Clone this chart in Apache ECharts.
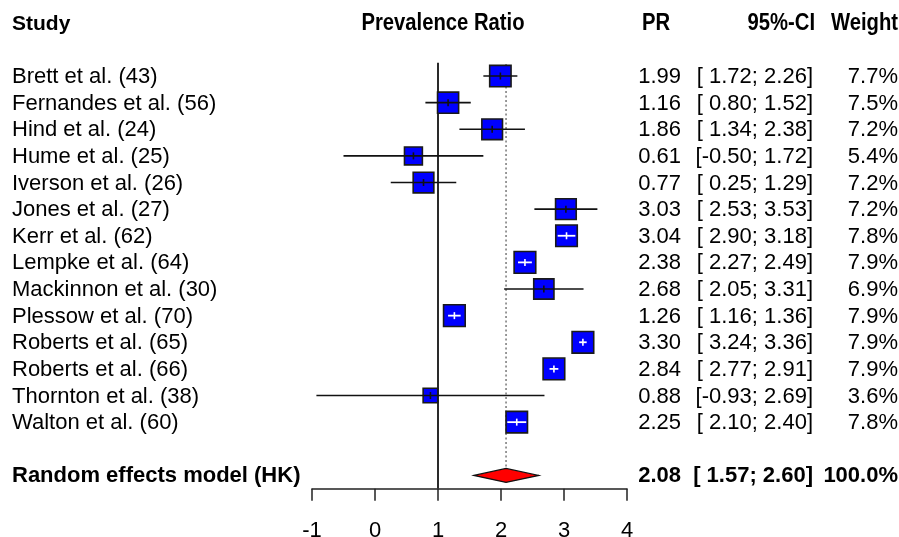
<!DOCTYPE html>
<html>
<head>
<meta charset="utf-8">
<script src="https://cdn.jsdelivr.net/npm/echarts@6/dist/echarts.min.js"></script>
<style>
  html, body { margin: 0; padding: 0; background: #fff; }
  #forest-chart { width: 899px; height: 537px; }
</style>
</head>
<body>
<div id="forest-chart"></div>
<script>
// 研究列表及其效应值
const studies = [
  "Brett et al. (43)", "Fernandes et al. (56)", "Hind et al. (24)", "Hume et al. (25)",
  "Iverson et al. (26)", "Jones et al. (27)", "Kerr et al. (62)", "Lempke et al. (64)",
  "Mackinnon et al. (30)", "Plessow et al. (70)", "Roberts et al. (65)", "Roberts et al. (66)",
  "Thornton et al. (38)", "Walton et al. (60)"
];
const pr = [1.99, 1.16, 1.86, 0.61, 0.77, 3.03, 3.04, 2.38, 2.68, 1.26, 3.30, 2.84, 0.88, 2.25];
const lower = [1.72, 0.80, 1.34, -0.50, 0.25, 2.53, 2.90, 2.27, 2.05, 1.16, 3.24, 2.77, -0.93, 2.10];
const upper = [2.26, 1.52, 2.38, 1.72, 1.29, 3.53, 3.18, 2.49, 3.31, 1.36, 3.36, 2.91, 2.69, 2.40];
const weight = [7.7, 7.5, 7.2, 5.4, 7.2, 7.2, 7.8, 7.9, 6.9, 7.9, 7.9, 7.9, 3.6, 7.8];

// 合并效应 (随机效应模型)
const summaryLabel = "Random effects model (HK)";
const summaryPR = 2.08;
const summaryLower = 1.57;
const summaryUpper = 2.60;
const summaryWeight = 100.0;
const summaryRow = 15;

const xTicks = [-1, 0, 1, 2, 3, 4];

const FONT = "'Liberation Sans', Arial, sans-serif";

const fmtCI = (lo, hi) => {
  const a = lo < 0 ? lo.toFixed(2) : " " + lo.toFixed(2);
  return "[" + a + "; " + hi.toFixed(2) + "]";
};

const studyData = studies.map((s, i) => [pr[i], i, lower[i], upper[i], weight[i]]);
const textData = studies.map((s, i) => [pr[i], i, s, pr[i].toFixed(2), fmtCI(lower[i], upper[i]), weight[i].toFixed(1) + "%"]);
textData.push([summaryPR, summaryRow, summaryLabel, summaryPR.toFixed(2), fmtCI(summaryLower, summaryUpper), summaryWeight.toFixed(1) + "%", 1]);

// 表头 (窄体粗字)
const header = (text, x, align) => ({
  type: "text",
  x: x,
  y: 24,
  scaleX: 0.88,
  style: { text: text, font: "bold 23px " + FONT, fill: "#000", align: align, verticalAlign: "middle" },
});

let chart = echarts.init(document.getElementById("forest-chart"));

let option = {
  animation: false,
  backgroundColor: "#fff",
  grid: {
    left: 312,
    width: 315,
    top: 62.7,
    height: 426,
    outerBoundsMode: "none",
    containLabel: false,
  },
  xAxis: {
    type: "value",
    min: xTicks[0],
    max: xTicks[xTicks.length - 1],
    interval: 1,
    axisLine: { onZero: false, lineStyle: { color: "#222", width: 1.5 } },
    axisTick: { show: true, length: 12, lineStyle: { color: "#222", width: 1.5 } },
    axisLabel: { color: "#000", fontSize: 22, fontFamily: FONT, margin: 31 },
    splitLine: { show: false },
  },
  yAxis: {
    type: "value",
    inverse: true,
    min: -0.5,
    max: 15.5,
    show: false,
  },
  graphic: [
    { type: "text", x: 12, y: 24, style: { text: "Study", font: "bold 21px " + FONT, fill: "#000", align: "left", verticalAlign: "middle" } },
    header("Prevalence Ratio", 443, "center"),
    header("PR", 656, "center"),
    header("95%-CI", 815, "right"),
    header("Weight", 898, "right"),
  ],
  series: [
    {
      // x=1 参考线
      type: "line",
      data: [[1, -0.5], [1, 15.5]],
      symbol: "none",
      lineStyle: { color: "#2a2a2a", width: 2 },
      silent: true,
      z: 1,
    },
    {
      // 合并效应虚线
      type: "line",
      data: [[summaryPR, -0.45], [summaryPR, 14.72]],
      symbol: "none",
      lineStyle: { color: "#555", width: 1.2, type: [2, 2.5] },
      silent: true,
      z: 1,
    },
    {
      type: "custom",
      data: studyData,
      encode: { x: 0, y: 1 },
      z: 3,
      renderItem: function (params, api) {
        const c = api.coord([api.value(0), api.value(1)]);
        const lo = api.coord([api.value(2), api.value(1)]);
        const hi = api.coord([api.value(3), api.value(1)]);
        const size = 7.7 * Math.sqrt(api.value(4));
        const half = size / 2;
        const inside = lo[0] >= c[0] - half && hi[0] <= c[0] + half;
        const lineColor = inside ? "#fff" : "#111";
        return {
          type: "group",
          children: [
            {
              type: "rect",
              shape: { x: c[0] - half, y: c[1] - half, width: size, height: size },
              style: { fill: "#0000FF", stroke: "#1a1a1a", lineWidth: 1.6 },
            },
            {
              type: "line",
              shape: { x1: lo[0], y1: c[1], x2: hi[0], y2: c[1] },
              style: { stroke: lineColor, lineWidth: inside ? 1.8 : 1.6 },
            },
            {
              type: "line",
              shape: { x1: c[0], y1: c[1] - 3.5, x2: c[0], y2: c[1] + 3.5 },
              style: { stroke: lineColor, lineWidth: 1.6 },
            },
          ],
        };
      },
    },
    {
      // 合并效应菱形
      type: "custom",
      data: [[summaryPR, summaryRow, summaryLower, summaryUpper]],
      encode: { x: 0, y: 1 },
      z: 3,
      renderItem: function (params, api) {
        const c = api.coord([api.value(0), api.value(1)]);
        const lo = api.coord([api.value(2), api.value(1)]);
        const hi = api.coord([api.value(3), api.value(1)]);
        return {
          type: "polygon",
          shape: { points: [[lo[0], c[1]], [c[0], c[1] - 7], [hi[0], c[1]], [c[0], c[1] + 7]] },
          style: { fill: "#FF0000", stroke: "#111", lineWidth: 1.2 },
        };
      },
    },
    {
      // 文字列
      type: "custom",
      data: textData,
      encode: { x: 0, y: 1 },
      z: 4,
      clip: false,
      renderItem: function (params, api) {
        const item = textData[params.dataIndex];
        const y = api.coord([0, item[1]])[1] + 1;
        const bold = item[6] ? "bold " : "";
        const font = bold + "22px " + FONT;
        const mk = (x, text, align) => ({
          type: "text",
          x: x,
          y: y,
          style: { text: text, font: font, fill: "#000", align: align, verticalAlign: "middle" },
        });
        return {
          type: "group",
          children: [
            mk(12, item[2], "left"),
            mk(681, item[3], "right"),
            mk(813, item[4], "right"),
            mk(898, item[5], "right"),
          ],
        };
      },
    },
  ],
};
chart.setOption(option);
</script>
</body>
</html>
